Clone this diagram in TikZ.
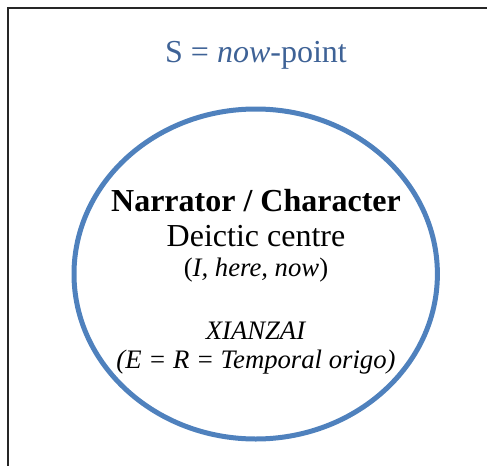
\documentclass[tikz,border=0pt]{standalone}
\usepackage{fontspec}
\setmainfont{Liberation Serif}
\definecolor{circleblue}{RGB}{79,129,189}
\definecolor{textblue}{RGB}{62,98,150}
\begin{document}
\begin{tikzpicture}[x=1pt, y=-1pt]
      \tikzset{biglabel/.style={anchor=base, inner sep=0pt, font=\fontsize{32}{38}\selectfont},
               smalllabel/.style={anchor=base, inner sep=0pt, font=\fontsize{26.7}{32}\selectfont}}
      \useasboundingbox (0,0) rectangle (487,466);
%% Frame
      	\draw[line width=2pt, black!85] (487,8) -- (7.5,8) -- (7.5,466);
      	\node[biglabel, text=textblue] (now) at (256,62) {S = \textit{now}-point};
%% Deictic centre
      	\draw[line width=5pt, circleblue] (255.7,274) ellipse [x radius=181.7, y radius=165];
      	\node[biglabel] (narr) at (256,211) {\textbf{Narrator / Character}};
      	\node[biglabel] (deic) at (256,246) {Deictic centre};
      	\node[smalllabel] (ihn) at (256,276) {(\textit{I, here, now})};
%Temporal origo
      	\node[smalllabel] (xz) at (256,339) {\textit{XIANZAI}};
      	\node[smalllabel] (ero) at (256,368) {\textit{(E = R = Temporal origo)}};
\end{tikzpicture}
\end{document}
